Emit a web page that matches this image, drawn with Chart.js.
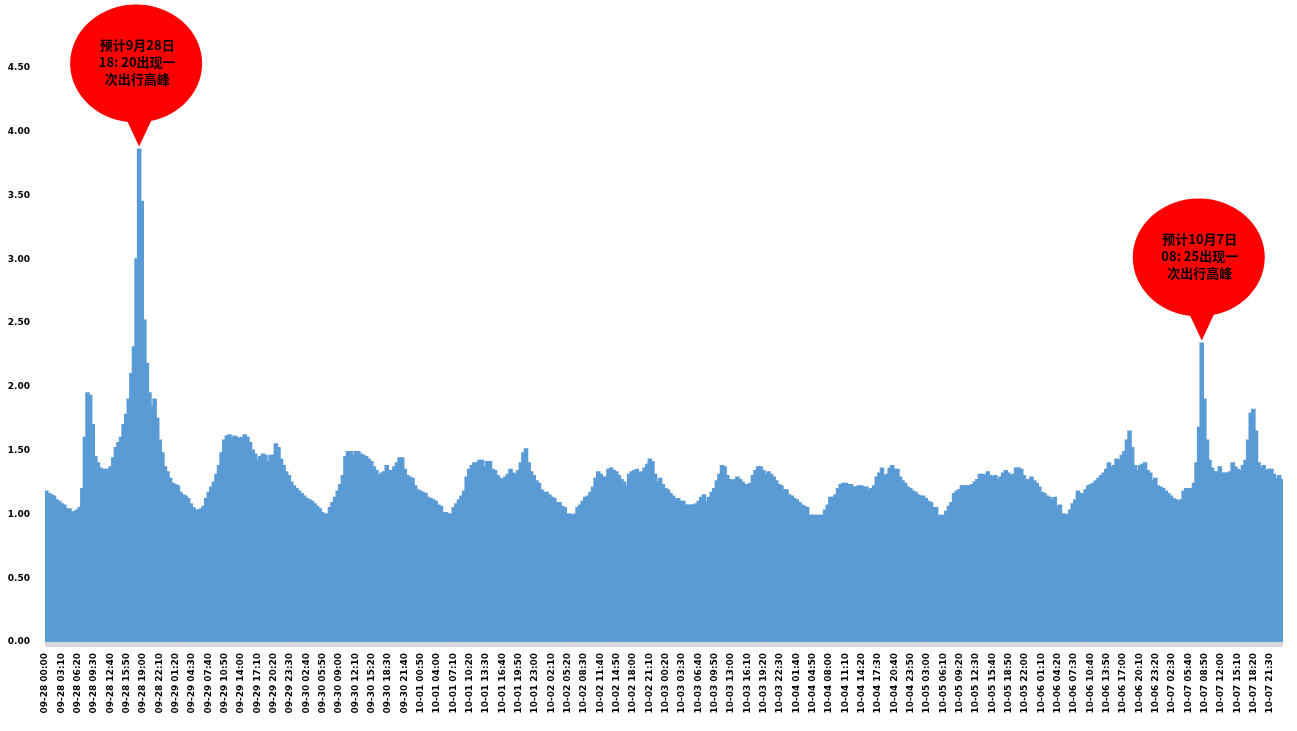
<!DOCTYPE html>
<html>
<head>
<meta charset="utf-8">
<title>出行指数</title>
<script src="https://cdn.jsdelivr.net/npm/chart.js@4.4.1/dist/chart.umd.min.js"></script>
<style>
  html, body { margin: 0; padding: 0; background: #fff; }
  #wrap { width: 1297px; height: 731px; position: relative; }
</style>
</head>
<body>
<div id="wrap"><canvas id="myChart"></canvas></div>
<script>
'use strict'

//data: one value per half hour, one array per day
const sep28 = [1.18, 1.16, 1.15, 1.14, 1.11, 1.10, 1.08, 1.07, 1.04, 1.04, 1.01, 1.02, 1.03, 1.05, 1.20, 1.60,
  1.95, 1.93, 1.70, 1.45, 1.40, 1.36, 1.35, 1.35, 1.35, 1.37, 1.44, 1.52, 1.56, 1.60, 1.70, 1.78,
  1.90, 2.10, 2.31, 3.00, 3.86, 3.45, 2.52, 2.18, 1.95, 1.84, 1.90, 1.75, 1.58, 1.48, 1.37, 1.33];
const sep29 = [1.28, 1.24, 1.23, 1.22, 1.17, 1.15, 1.14, 1.12, 1.08, 1.05, 1.03, 1.03, 1.04, 1.06, 1.12, 1.17,
  1.21, 1.25, 1.31, 1.38, 1.48, 1.58, 1.61, 1.62, 1.60, 1.61, 1.60, 1.59, 1.60, 1.62, 1.60, 1.56,
  1.50, 1.47, 1.42, 1.45, 1.47, 1.46, 1.41, 1.46, 1.46, 1.55, 1.52, 1.43, 1.38, 1.33, 1.30, 1.25];
const sep30 = [1.22, 1.20, 1.18, 1.16, 1.14, 1.12, 1.11, 1.10, 1.08, 1.06, 1.04, 1.01, 1.00, 1.00, 1.05, 1.09,
  1.13, 1.18, 1.23, 1.30, 1.45, 1.49, 1.49, 1.46, 1.49, 1.49, 1.47, 1.46, 1.45, 1.43, 1.41, 1.37,
  1.34, 1.30, 1.32, 1.33, 1.38, 1.34, 1.34, 1.37, 1.40, 1.44, 1.44, 1.35, 1.30, 1.29, 1.28, 1.22];
const oct01 = [1.19, 1.18, 1.17, 1.16, 1.13, 1.12, 1.11, 1.10, 1.07, 1.06, 1.01, 1.01, 1.00, 1.00, 1.05, 1.08,
  1.11, 1.14, 1.18, 1.29, 1.35, 1.38, 1.40, 1.40, 1.42, 1.42, 1.37, 1.41, 1.41, 1.35, 1.34, 1.30,
  1.28, 1.27, 1.29, 1.31, 1.35, 1.32, 1.31, 1.34, 1.40, 1.48, 1.51, 1.40, 1.33, 1.30, 1.26, 1.24];
const oct02 = [1.19, 1.17, 1.17, 1.15, 1.13, 1.12, 1.09, 1.09, 1.06, 1.05, 1.00, 1.00, 0.99, 1.00, 1.05, 1.07,
  1.10, 1.13, 1.14, 1.17, 1.21, 1.28, 1.33, 1.31, 1.29, 1.29, 1.35, 1.36, 1.34, 1.33, 1.30, 1.27,
  1.25, 1.22, 1.31, 1.33, 1.34, 1.35, 1.32, 1.33, 1.36, 1.39, 1.43, 1.41, 1.31, 1.25, 1.28, 1.23];
const oct03 = [1.20, 1.19, 1.16, 1.14, 1.12, 1.12, 1.10, 1.10, 1.07, 1.07, 1.07, 1.07, 1.08, 1.10, 1.13, 1.15,
  1.10, 1.13, 1.17, 1.20, 1.26, 1.31, 1.38, 1.37, 1.30, 1.27, 1.26, 1.27, 1.29, 1.27, 1.25, 1.23,
  1.23, 1.24, 1.30, 1.34, 1.37, 1.37, 1.34, 1.31, 1.33, 1.31, 1.29, 1.26, 1.23, 1.22, 1.19, 1.19];
const oct04 = [1.15, 1.14, 1.12, 1.11, 1.09, 1.07, 1.06, 1.05, 0.99, 0.99, 0.99, 0.99, 0.99, 0.99, 1.03, 1.07,
  1.13, 1.13, 1.15, 1.20, 1.23, 1.24, 1.24, 1.23, 1.23, 1.21, 1.21, 1.22, 1.22, 1.21, 1.21, 1.19,
  1.20, 1.22, 1.29, 1.32, 1.36, 1.30, 1.31, 1.36, 1.38, 1.35, 1.35, 1.29, 1.26, 1.24, 1.21, 1.20];
const oct05 = [1.18, 1.17, 1.15, 1.14, 1.14, 1.12, 1.10, 1.09, 1.05, 1.05, 0.99, 0.99, 0.99, 1.02, 1.06, 1.09,
  1.16, 1.18, 1.19, 1.22, 1.22, 1.22, 1.22, 1.23, 1.25, 1.27, 1.31, 1.31, 1.30, 1.33, 1.30, 1.29,
  1.30, 1.27, 1.29, 1.32, 1.34, 1.32, 1.30, 1.31, 1.36, 1.36, 1.35, 1.30, 1.27, 1.27, 1.29, 1.26];
const oct06 = [1.24, 1.21, 1.17, 1.16, 1.14, 1.13, 1.11, 1.13, 1.06, 1.07, 1.00, 1.00, 0.99, 1.03, 1.08, 1.11,
  1.18, 1.16, 1.16, 1.19, 1.22, 1.23, 1.24, 1.26, 1.28, 1.30, 1.32, 1.35, 1.40, 1.37, 1.38, 1.43,
  1.42, 1.46, 1.49, 1.58, 1.65, 1.52, 1.38, 1.34, 1.38, 1.39, 1.40, 1.34, 1.32, 1.26, 1.28, 1.22];
const oct07 = [1.21, 1.20, 1.18, 1.16, 1.14, 1.12, 1.11, 1.10, 1.11, 1.18, 1.20, 1.20, 1.20, 1.24, 1.40, 1.68,
  2.34, 1.90, 1.58, 1.42, 1.36, 1.33, 1.33, 1.37, 1.32, 1.32, 1.32, 1.33, 1.40, 1.37, 1.35, 1.34,
  1.38, 1.42, 1.58, 1.79, 1.82, 1.65, 1.40, 1.36, 1.38, 1.34, 1.35, 1.35, 1.31, 1.28, 1.30, 1.27];

const allDays = [sep28, sep29, sep30, oct01, oct02, oct03, oct04, oct05, oct06, oct07];
const values = [].concat(...allDays);

const slotMinutes = 30;
const tickStep = 190;
const totalMinutes = values.length * slotMinutes;
const startDate = Date.UTC(2017, 8, 28, 0, 0);

const yTicks = [0, 0.5, 1, 1.5, 2, 2.5, 3, 3.5, 4, 4.5];

//callouts: bar index of the peak and its text
const calloutIndex = [36, 448];
const calloutText = [
  ['预计9月28日', '18: 20出现一', '次出行高峰'],
  ['预计10月7日', '08: 25出现一', '次出行高峰']
];

//functions
function pad(n) {
  return n < 10 ? '0' + n : '' + n;
}

function formatTime(minutes) {
  let d = new Date(startDate + minutes * 60000);
  return pad(d.getUTCMonth() + 1) + '-' + pad(d.getUTCDate()) + ' ' + pad(d.getUTCHours()) + ':' + pad(d.getUTCMinutes());
}

let tickValues = [];
let tickLabels = [];
for (let m = 0; m < totalMinutes; m += tickStep) {
  tickValues.push(m);
  tickLabels.push(formatTime(m));
}

let points = [];
for (let i = 0; i < values.length; i++) {
  points.push({ x: i * slotMinutes + slotMinutes / 2, y: values[i] });
}

const tickFont = { family: 'DejaVu Sans', size: 9, weight: 'bold' };

// no extra room for the tick labels around the plot
function noScalePadding(scale) {
  scale.paddingTop = 0;
  scale.paddingBottom = 0;
  scale.paddingLeft = 0;
  scale.paddingRight = 0;
}

const axisBand = {
  id: 'axisBand',
  afterDatasetsDraw(chart) {
    const { ctx, chartArea } = chart;
    ctx.save();
    ctx.fillStyle = '#d9d9d9';
    ctx.fillRect(chartArea.left, chartArea.bottom, chartArea.right - chartArea.left, 5);
    ctx.restore();
  }
};

const callouts = {
  id: 'callouts',
  afterDatasetsDraw(chart) {
    const ctx = chart.ctx;
    const bars = chart.getDatasetMeta(0).data;
    for (let n = 0; n < calloutIndex.length; n++) {
      const bar = bars[calloutIndex[n]];
      const tipX = bar.x;
      const tipY = bar.y - 3;
      const rx = 66;
      const ry = 59;
      const cx = tipX - 3;
      const cy = tipY - 83;
      ctx.save();
      ctx.fillStyle = '#ff0000';
      ctx.beginPath();
      ctx.ellipse(cx, cy, rx, ry, 0, 0, Math.PI * 2);
      ctx.fill();
      ctx.beginPath();
      ctx.moveTo(tipX - 15, cy + ry - 8);
      ctx.lineTo(tipX + 15, cy + ry - 8);
      ctx.lineTo(tipX, tipY);
      ctx.closePath();
      ctx.fill();
      ctx.fillStyle = '#000';
      ctx.font = 'bold 13px "Noto Sans CJK SC"';
      ctx.textAlign = 'center';
      ctx.textBaseline = 'middle';
      for (let k = 0; k < calloutText[n].length; k++) {
        ctx.fillText(calloutText[n][k], cx + 1, cy + (k - 1) * 17 - 1);
      }
      ctx.restore();
    }
  }
};

const data = {
  datasets: [{
    label: '出行指数',
    data: points,
    backgroundColor: '#5b9bd5',
    borderWidth: 0,
    inflateAmount: 1,
    barPercentage: 1,
    categoryPercentage: 1
  }]
};

const config = {
  type: 'bar',
  data: data,
  options: {
    responsive: true,
    maintainAspectRatio: false,
    animation: false,
    layout: { padding: { left: 0, right: 14, top: 4, bottom: 0 } },
    plugins: {
      legend: { display: false },
      tooltip: { enabled: false }
    },
    scales: {
      x: {
        type: 'linear',
        offset: false,
        min: 0,
        max: totalMinutes,
        grid: { display: false, drawTicks: false },
        border: { display: false },
        afterBuildTicks: scale => { scale.ticks = tickValues.map(v => ({ value: v })); },
        afterFit: scale => { scale.height = 89; noScalePadding(scale); },
        ticks: {
          autoSkip: false,
          maxRotation: 90,
          minRotation: 90,
          padding: 11,
          color: '#000',
          font: tickFont,
          callback: (value, index) => tickLabels[index]
        }
      },
      y: {
        min: 0,
        max: 5,
        grid: { display: false, drawTicks: false },
        border: { display: false },
        afterBuildTicks: scale => { scale.ticks = yTicks.map(v => ({ value: v })); },
        afterFit: scale => { scale.width = 45; noScalePadding(scale); },
        ticks: {
          padding: 15,
          color: '#000',
          font: tickFont,
          callback: value => value.toFixed(2)
        }
      }
    }
  },
  plugins: [axisBand, callouts]
};

let canvasChart = document.getElementById('myChart');
const myChart = new Chart(canvasChart, config);
</script>
</body>
</html>
